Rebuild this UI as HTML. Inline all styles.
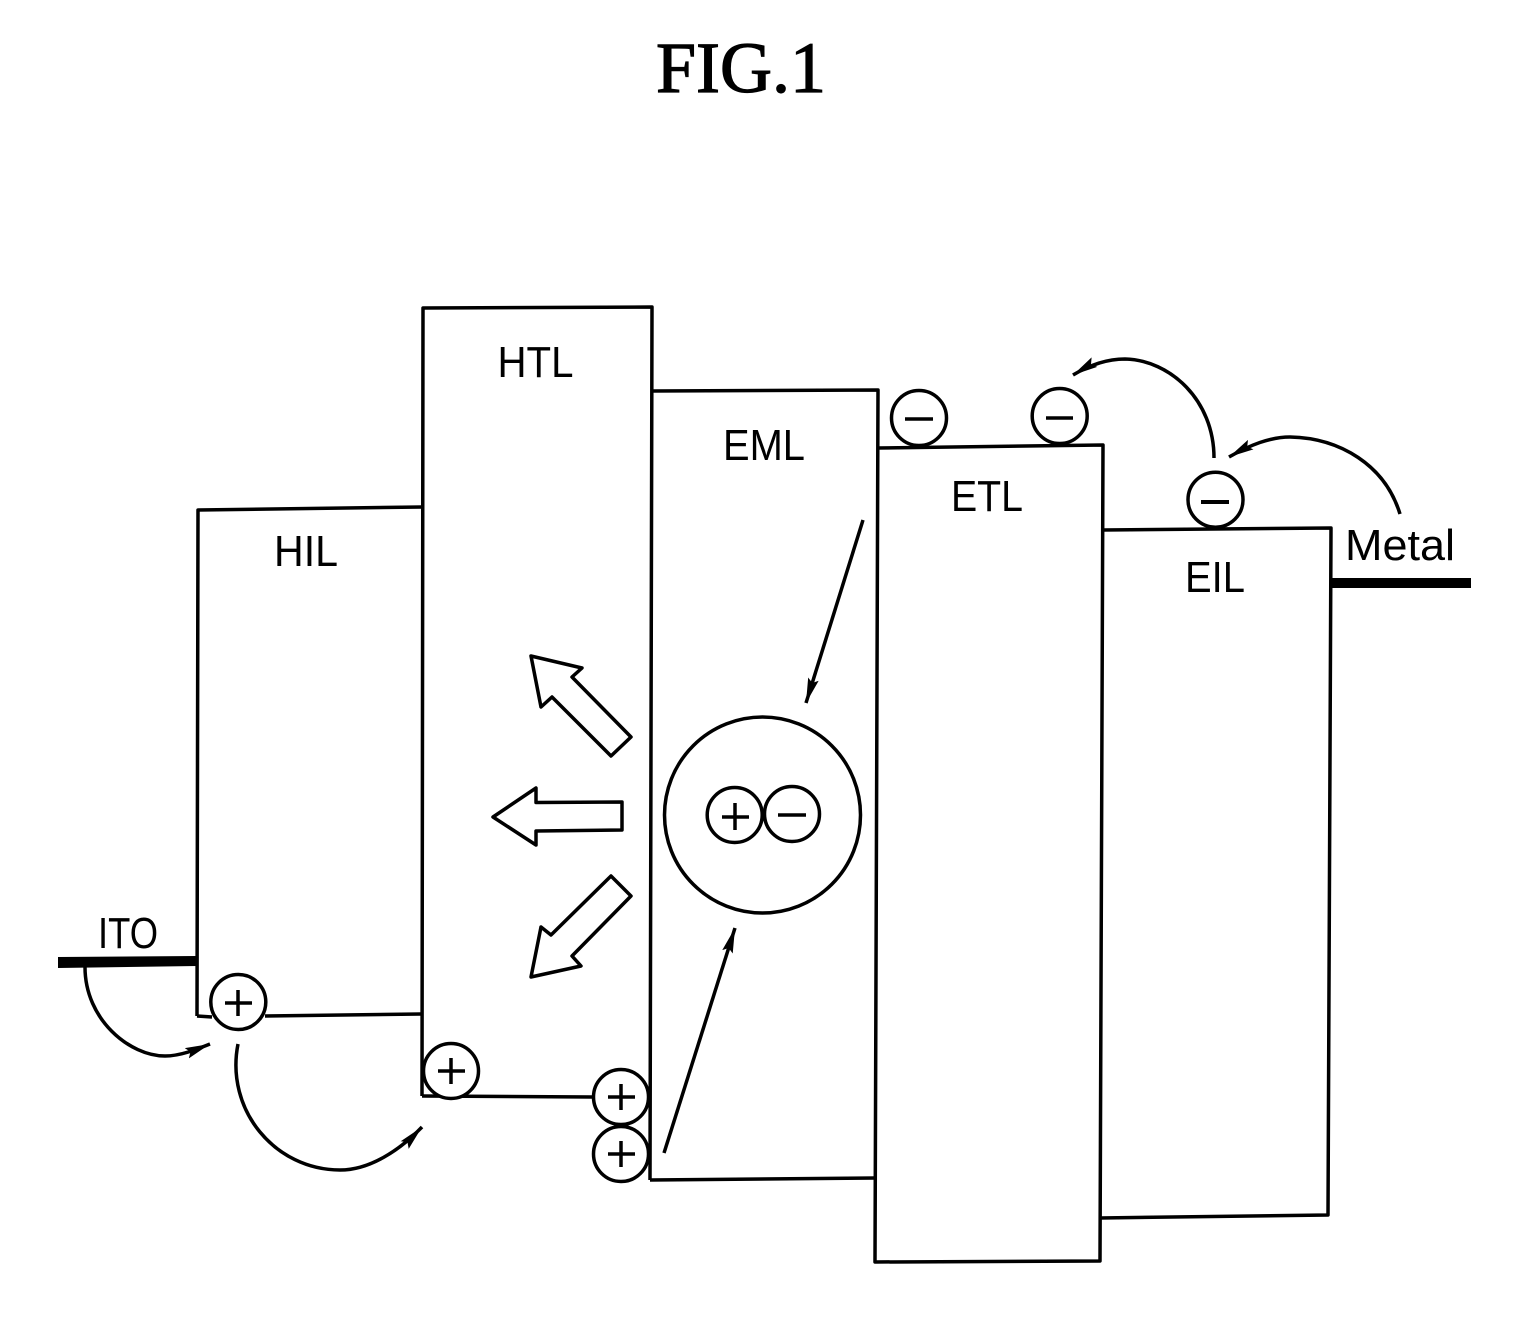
<!DOCTYPE html>
<html>
<head>
<meta charset="utf-8">
<style>
html,body{margin:0;padding:0;background:#fff;}
svg{display:block;}
text{fill:#000;}
</style>
</head>
<body>
<svg width="1520" height="1333" viewBox="0 0 1520 1333" xmlns="http://www.w3.org/2000/svg">
<defs>
<marker id="a" markerWidth="26" markerHeight="14" refX="25" refY="7" orient="auto" markerUnits="userSpaceOnUse"><path d="M0,1.5 L25,7 L0,12.5 L4,7 Z" fill="#000"/></marker>
</defs>
<text x="741" y="92" font-family="Liberation Serif, serif" font-size="72" text-anchor="middle" stroke="#000" stroke-width="1.2">FIG.1</text>
<g fill="none" stroke="#000" stroke-width="3.5" stroke-linejoin="round">
<path d="M197,1016 L198,510 L422,507"/>
<path d="M197,1016 L212,1017 M265,1016 L421,1014"/>
<path d="M422,1096 L423,308 L652,307 L650,1180"/>
<path d="M422,1096 L592,1097"/>
<path d="M652,391 L878,390 L875,1262 L1100,1261 L1103,445 L878,448"/>
<path d="M650,1180 L875,1178"/>
<path d="M1103,530 L1331,528 L1328,1215 L1100,1218"/>
</g>
<polygon points="58,957 197,956 197,966 58,968" fill="#000"/>
<polygon points="1332,578 1471,578 1471,588 1332,588" fill="#000"/>
<g font-family="Liberation Sans, sans-serif" font-size="44" text-anchor="middle">
<text x="535.5" y="377" textLength="76" lengthAdjust="spacingAndGlyphs">HTL</text>
<text x="306" y="566" textLength="64" lengthAdjust="spacingAndGlyphs">HIL</text>
<text x="764" y="460" textLength="82" lengthAdjust="spacingAndGlyphs">EML</text>
<text x="987" y="511" textLength="72" lengthAdjust="spacingAndGlyphs">ETL</text>
<text x="1215" y="592" textLength="60" lengthAdjust="spacingAndGlyphs">EIL</text>
<text x="1400" y="560" textLength="110" lengthAdjust="spacingAndGlyphs">Metal</text>
<text x="128" y="948" textLength="60" lengthAdjust="spacingAndGlyphs">ITO</text>
</g>
<g fill="#fff" stroke="#000" stroke-width="3.5">
<circle cx="762.5" cy="815" r="98"/>
<circle cx="734.7" cy="815" r="27.5"/>
<circle cx="792" cy="814" r="27.5"/>
<circle cx="238.3" cy="1002" r="27.5"/>
<circle cx="451" cy="1071" r="27.5"/>
<circle cx="621" cy="1097" r="27.5"/>
<circle cx="621" cy="1154" r="27.5"/>
<circle cx="919" cy="418" r="27.5"/>
<circle cx="1059.7" cy="416" r="27.5"/>
<circle cx="1215.5" cy="499.7" r="27.5"/>
</g>
<g stroke="#000" stroke-width="3.5" fill="none">
<path d="M722,817 H749 M735,803 V830"/>
<path d="M778,815 H806"/>
<path d="M225,1003 H252 M238,990 V1016"/>
<path d="M438,1071 H465 M451,1058 V1084"/>
<path d="M608,1097 H635 M621,1084 V1110"/>
<path d="M608,1154 H635 M621,1141 V1167"/>
<path d="M905,419 H933"/>
<path d="M1046,418 H1073"/>
<path d="M1201,502 H1229" stroke-width="4"/>
</g>
<g fill="none" stroke="#000" stroke-width="3.5" stroke-linejoin="round">
<path d="M85,967 C85,1020 130,1056 165,1056 C180,1056 195,1050 210,1044" marker-end="url(#a)"/>
<path d="M238,1044 C225,1110 275,1170 340,1170 C370,1170 400,1150 422,1127" marker-end="url(#a)"/>
<path d="M1214,458 C1214,400 1170,360 1125,359 C1105,359 1088,366 1073,375" marker-end="url(#a)"/>
<path d="M1400,514 C1385,465 1340,438 1290,437 C1270,437 1250,445 1229,457" marker-end="url(#a)"/>
<path d="M863,520 L806,703" marker-end="url(#a)"/>
<path d="M664,1153 L735,928" marker-end="url(#a)"/>
<path d="M531,656 L582,668 L572,677 L631,737 L611,756 L552,697 L541,707 Z"/>
<path d="M493,817 L536,788 V802.5 L622,802 V830 L536,831 V845 Z"/>
<path d="M611,876 L631,896 L572,956 L581,966 L531,977 L541,927 L551,935 Z"/>
</g>
</svg>
</body>
</html>
